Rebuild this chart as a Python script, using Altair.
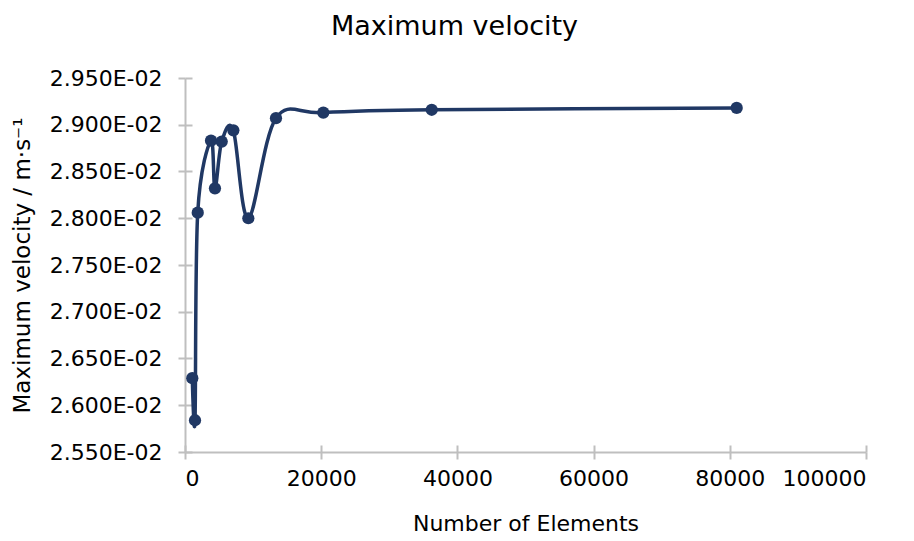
import altair as alt
import pandas as pd

# Data
elements = [1070, 1470, 1870, 3820, 4400, 5390, 7100, 9300, 13360, 20310, 36230, 81010]
max_velocity = [0.02629, 0.02584, 0.02806, 0.02883, 0.02832, 0.02882,
                0.02894, 0.02800, 0.02907, 0.02913, 0.02916, 0.02918]
y_ticks = [0.0255, 0.0260, 0.0265, 0.0270, 0.0275, 0.0280, 0.0285, 0.0290, 0.0295]
x_ticks = [0, 20000, 40000, 60000, 80000, 100000]

df = pd.DataFrame({"Elements": elements, "Velocity": max_velocity})

FONT = "DejaVu Sans"
NAVY = "#203864"
GREY = "#BFBFBF"

x_scale = alt.Scale(domain=[0, 100000], nice=False, zero=False)
y_scale = alt.Scale(domain=[0.0255, 0.0295], nice=False, zero=False)

base = alt.Chart(df)

line = base.mark_line(color=NAVY, strokeWidth=3.5, interpolate="cardinal").encode(
    x=alt.X("Elements:Q", scale=x_scale,
            axis=alt.Axis(values=x_ticks, format="d", title="Number of Elements",
                          grid=False, domainColor=GREY, domainWidth=2,
                          tickColor=GREY, tickWidth=2, tickSize=7,
                          labelPadding=9, labelFontSize=22, labelColor="black",
                          labelFont=FONT, titleFont=FONT, titleFontSize=22,
                          titleFontWeight="normal", titleColor="black",
                          titleY=71, titleBaseline="middle")),
    y=alt.Y("Velocity:Q", scale=y_scale,
            axis=alt.Axis(values=y_ticks,
                          labelExpr="format(datum.value*100, '.3f') + 'E-02'",
                          title="Maximum velocity / m·s⁻¹",
                          grid=False, domainColor=GREY, domainWidth=2,
                          tickColor=GREY, tickWidth=2, tickSize=7,
                          labelPadding=16, labelFontSize=22, labelColor="black",
                          labelFont=FONT, titleFont=FONT, titleFontSize=23,
                          titleFontWeight="normal", titleColor="black",
                          titleX=-163, titleY=187, titleAlign="center",
                          titleBaseline="middle", titleAngle=-90)),
)

points = base.mark_circle(color=NAVY, size=150, opacity=1).encode(
    x=alt.X("Elements:Q", scale=x_scale,
            axis=alt.Axis(orient="bottom", values=x_ticks, offset=-7, labels=False,
                          domain=False, title=None, grid=False,
                          tickColor=GREY, tickWidth=2, tickSize=7)),
    y=alt.Y("Velocity:Q", scale=y_scale,
            axis=alt.Axis(orient="left", values=y_ticks, offset=-7, labels=False,
                          domain=False, title=None, grid=False,
                          tickColor=GREY, tickWidth=2, tickSize=7)),
)

chart = alt.layer(line, points).resolve_scale(x="independent", y="independent").properties(
    width=681,
    height=374,
    background="white",
    autosize=alt.AutoSizeParams(type="none"),
    padding={"left": 185, "top": 78, "right": 48, "bottom": 89},
    title=alt.TitleParams("Maximum velocity", font=FONT, fontSize=27,
                          fontWeight="normal", color="black", anchor="middle",
                          dx=-71, offset=26),
).configure_view(stroke=None)

chart.save("out.html", embed_options={"renderer": "svg", "actions": False})
